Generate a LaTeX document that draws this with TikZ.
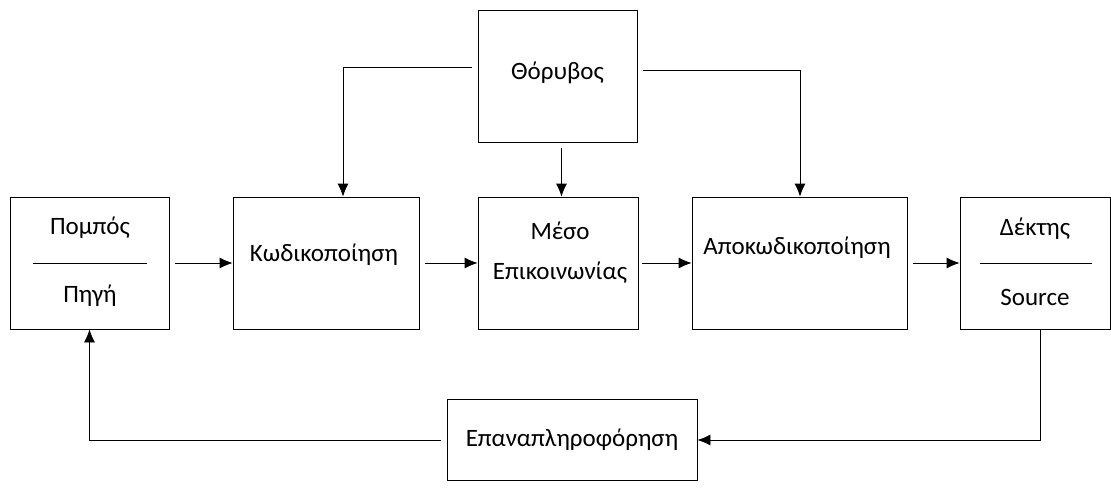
\documentclass[tikz,border=0pt]{standalone}
\usepackage{fontspec}
\setmainfont{Carlito}
\usetikzlibrary{arrows.meta}
\tikzset{
  blok/.style={draw, thick, minimum height=132pt, inner sep=0pt},
  txt/.style={font=\fontsize{25}{40}\selectfont, inner sep=0pt, align=center},
  pijl/.style={thick, -{Latex[length=13pt,width=11pt]}, shorten <=6pt},
}
\begin{document}
\begin{tikzpicture}[x=1pt,y=-1pt]
    \useasboundingbox (0,0) rectangle (1111,488);

    % Draw the boxes
    \node[blok, minimum width=159pt] (pompos) at (89.5,263) {};
    \node[blok, minimum width=186pt] (kodik) at (326,263) {};
    \node[blok, minimum width=160pt] (meso) at (558,263) {};
    \node[blok, minimum width=215pt] (apokod) at (799.5,263) {};
    \node[blok, minimum width=150pt] (dektis) at (1035,263) {};
    \node[blok, minimum width=159pt] (thorivos) at (557.5,76) {};
    \node[blok, minimum width=250pt, minimum height=81pt] (epan) at (572,440) {};

    % Texts
    \node[txt] (pompostxt) at (90,228) {Πομπός};
    \node[txt] (pigitxt) at (90,296) {Πηγή};
    \draw[thick] ([xshift=23pt]pompos.west |- 0,263) -- ([xshift=-22pt]pompos.east |- 0,263);
    \node[txt] (kodiktxt) at (324,255) {Κωδικοποίηση};
    \node[txt] (mesotxt) at (560,253) {Μέσο\\Επικοινωνίας};
    \node[txt] (apokodtxt) at (797,248) {Αποκωδικοποίηση};
    \node[txt] (dektistxt) at (1035,229) {Δέκτης};
    \node[txt] (sourcetxt) at (1035,297) {Source};
    \draw[thick] ([xshift=20pt]dektis.west |- 0,263) -- ([xshift=-18pt]dektis.east |- 0,263);
    \node[txt] (thorivostxt) at (557.5,73) {Θόρυβος};
    \node[txt] (epantxt) at (572,440) {Επαναπληροφόρηση};

    % Main chain
    \draw[pijl] (pompos) -- (kodik);
    \draw[pijl] (kodik) -- (meso);
    \draw[pijl, shorten <=4pt] (meso) -- (apokod);
    \draw[pijl] (apokod) -- (dektis);

    % Noise
    \draw[pijl] ([yshift=9pt]thorivos.west) -| ([xshift=17pt]kodik.north);
    \draw[pijl] ([xshift=4pt]thorivos.south) -- ([xshift=4pt]thorivos.south |- meso.north);
    \draw[pijl] ([yshift=6pt]thorivos.east) -| ([xshift=0.5pt]apokod.north);

    % Feedback
    \draw[pijl, shorten <=0pt] ([xshift=5pt]dektis.south) |- (epan.east);
    \draw[pijl] (epan.west) -| (pompos.south);
\end{tikzpicture}
\end{document}
